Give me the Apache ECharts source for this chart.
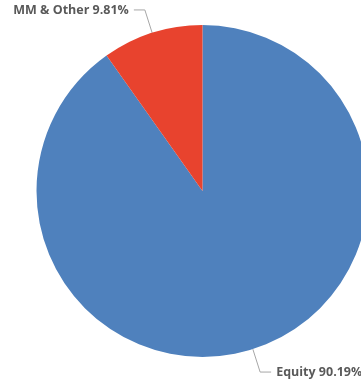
<!DOCTYPE html>
<html>
  <head>
    <meta charset="utf-8" />
    <title>pie</title>
    <style>
    html, body { margin: 0; padding: 0; background: #fff; }
    #chartBox { width: 361px; height: 381px; }
    </style>
  </head>
  <body>
    <div id="chartBox"></div>
  </body>
  <script src="https://cdn.jsdelivr.net/npm/echarts@6/dist/echarts.min.js"></script>
  <script>
    var itemArr = ['Equity', 'MM & Other'];
    var dataArr = [90.19, 9.81];
    var colorArr = ['#4f81bd', '#e8432e'];

    function getDataArr(itemArr, dataArr) {
      var sb = [];
      for (var i = 0; i < itemArr.length; i++) {
        sb.push({ value: dataArr[i], name: itemArr[i] });
      }
      return sb;
    }

    var myChart = echarts.init(document.getElementById('chartBox'));
    var option = {
      animation: false,
      color: colorArr,
      series: [
        {
          type: 'pie',
          center: [202.5, 191],
          radius: 166,
          startAngle: 90,
          clockwise: true,
          label: {
            show: true,
            position: 'outside',
            overflow: 'none',
            color: '#595959',
            fontFamily: 'Open Sans',
            fontWeight: 'bold',
            fontSize: 12.5,
            formatter: function (p) { return p.name + ' ' + p.value.toFixed(2) + '%'; }
          },
          labelLine: {
            show: true,
            length: 24,
            length2: 11,
            lineStyle: { color: '#a6a6a6', width: 1 }
          },
          emphasis: { disabled: true },
          data: getDataArr(itemArr, dataArr)
        }
      ]
    };
    myChart.setOption(option);
  </script>
</html>
